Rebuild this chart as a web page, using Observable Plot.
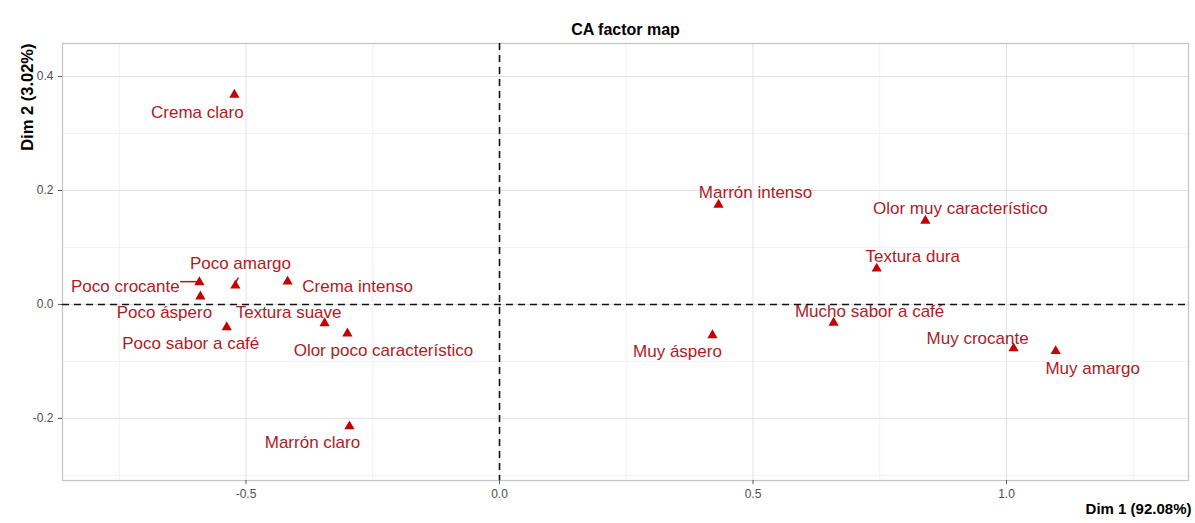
<!DOCTYPE html>
<html>
<head>
<meta charset="utf-8">
<script src="https://cdn.jsdelivr.net/npm/d3@7"></script>
<script src="https://cdn.jsdelivr.net/npm/@observablehq/plot@0.6"></script>
<style>
body { margin: 0; background: #fff; }
</style>
</head>
<body>
<div id="chart"></div>
<script>
// Column categories (CA factor map)
const categories = [
  "Crema claro", "Poco crocante", "Poco amargo", "Crema intenso", "Poco áspero",
  "Textura suave", "Poco sabor a café", "Olor poco característico", "Marrón claro",
  "Marrón intenso", "Olor muy característico", "Textura dura", "Mucho sabor a café",
  "Muy áspero", "Muy crocante", "Muy amargo"
];
const dim1 = [-0.523, -0.592, -0.521, -0.418, -0.590, -0.345, -0.538, -0.300, -0.296,
  0.432, 0.840, 0.744, 0.659, 0.420, 1.014, 1.097];
const dim2 = [0.368, 0.039, 0.033, 0.040, 0.014, -0.033, -0.040, -0.051, -0.214,
  0.175, 0.147, 0.063, -0.032, -0.054, -0.077, -0.082];
// Repelled label anchors (data units)
const labelDim1 = [-0.596, -0.738, -0.511, -0.280, -0.661, -0.416, -0.609, -0.229, -0.369,
  0.505, 0.909, 0.815, 0.730, 0.351, 0.943, 1.170];
const labelDim2 = [0.337, 0.032, 0.072, 0.032, -0.014, -0.014, -0.068, -0.081, -0.242,
  0.196, 0.168, 0.084, -0.012, -0.082, -0.060, -0.112];
// Repel connector segments: [x1, y1, x2, y2]
const connectors = [
  [-0.630, 0.040, -0.594, 0.040],
  [-0.515, 0.047, -0.526, 0.030]
];
const xTicks = [-0.5, 0, 0.5, 1.0];
const yTicks = [-0.2, 0, 0.2, 0.4];
const xMinor = [-0.75, -0.25, 0.25, 0.75, 1.25];
const yMinor = [-0.3, -0.1, 0.1, 0.3];
const title = "CA factor map";
const xTitle = "Dim 1 (92.08%)";
const yTitle = "Dim 2 (3.02%)";

const pts = categories.map((name, i) => ({name, x: dim1[i], y: dim2[i], lx: labelDim1[i], ly: labelDim2[i]}));
const segs = connectors.map(([x1, y1, x2, y2]) => ({x1, y1, x2, y2}));

const textColor = "#b01a1f";
const ptColor = "#c40000";

const chart = Plot.plot({
  width: 1195,
  height: 523,
  marginTop: 43,
  marginBottom: 43,
  marginLeft: 62,
  marginRight: 7,
  style: {fontFamily: "'Liberation Sans', Arial, sans-serif", background: "#fff"},
  x: {domain: [-0.862, 1.359], ticks: xTicks, tickFormat: d => d.toFixed(1), label: null, tickSize: 4, tickPadding: 4},
  y: {domain: [-0.309, 0.458], ticks: yTicks, tickFormat: d => d.toFixed(1), label: null, tickSize: 4, tickPadding: 3},
  marks: [
    Plot.ruleX(xMinor, {stroke: "#f2f2f2", strokeWidth: 1}),
    Plot.ruleY(yMinor, {stroke: "#f2f2f2", strokeWidth: 1}),
    Plot.ruleX(xTicks, {stroke: "#e3e3e3", strokeWidth: 1}),
    Plot.ruleY(yTicks, {stroke: "#e3e3e3", strokeWidth: 1}),
    Plot.frame({stroke: "#c4c4c4", strokeWidth: 1.2}),
    Plot.axisX({ticks: xTicks, tickFormat: d => d.toFixed(1), tickSize: 4, stroke: "#555", fill: "#4d4d4d", fontSize: 12, label: null}),
    Plot.axisY({ticks: yTicks, tickFormat: d => d.toFixed(1), tickSize: 4, stroke: "#555", fill: "#4d4d4d", fontSize: 12, label: null}),
    Plot.ruleX([0], {stroke: "#111", strokeWidth: 1.6, strokeDasharray: "7,5"}),
    Plot.ruleY([0], {stroke: "#111", strokeWidth: 1.6, strokeDasharray: "7,5"}),
    Plot.link(segs, {x1: "x1", y1: "y1", x2: "x2", y2: "y2", stroke: textColor, strokeWidth: 1.5}),
    Plot.dot(pts, {x: "x", y: "y", symbol: "triangle", r: 3.8, fill: ptColor, stroke: "none"}),
    Plot.text(pts, {x: "lx", y: "ly", text: "name", fill: textColor, fontSize: 17, textAnchor: "middle", lineAnchor: "middle"}),
    Plot.text([title], {text: d => d, frameAnchor: "top", dy: -20, fontSize: 16, fontWeight: "bold", fill: "#000"}),
    Plot.text([xTitle], {text: d => d, frameAnchor: "bottom-right", textAnchor: "end", dx: 3, dy: 33, fontSize: 15, fontWeight: "bold", fill: "#000"}),
    Plot.text([yTitle], {text: d => d, frameAnchor: "top-left", rotate: -90, textAnchor: "end", dx: -41, dy: 0, fontSize: 16.5, fontWeight: "bold", fill: "#000"})
  ]
});
document.getElementById("chart").appendChild(chart);
</script>
</body>
</html>
